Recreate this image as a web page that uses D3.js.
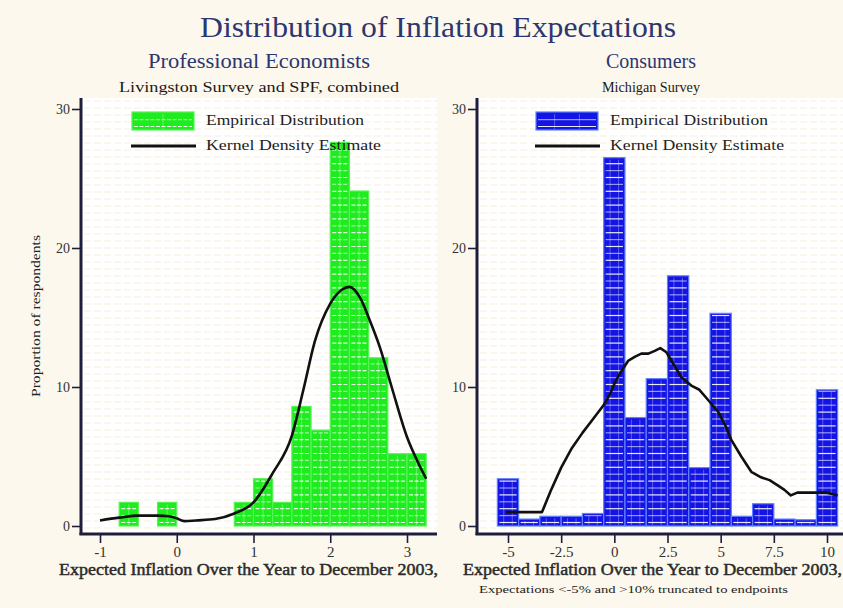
<!DOCTYPE html>
<html>
<head>
<meta charset="utf-8">
<script src="https://cdn.jsdelivr.net/npm/d3@7/dist/d3.min.js"></script>
<style>
  html, body { margin: 0; padding: 0; background: #fcf8ed; }
  svg { display: block; }
  text { font-family: "Liberation Serif", "DejaVu Serif", serif; }
</style>
</head>
<body>
<svg id="chart" width="843" height="608"></svg>
<script>
// Professional economists: 0.25-point bins (left edges) and share of respondents (%)
const proBinStart = [-0.75, -0.25, 0.75, 1.0, 1.25, 1.5, 1.75, 2.0, 2.25, 2.5, 2.75, 3.0];
const proShare    = [1.7, 1.7, 1.7, 3.4, 1.7, 8.6, 6.9, 27.6, 24.1, 12.1, 5.2, 5.2];
const proBinWidth = 0.25;
// Professional economists: kernel density estimate (scaled to %)
const proKdeX = [-1.0, -0.75, -0.5, -0.25, -0.1, 0.0, 0.1, 0.25, 0.5, 0.75, 1.0, 1.25, 1.5, 1.65, 1.8, 2.0, 2.15, 2.25, 2.4, 2.5, 2.65, 2.8, 3.0, 3.15, 3.25];
const proKdeY = [0.4, 0.6, 0.75, 0.75, 0.7, 0.55, 0.35, 0.4, 0.5, 0.9, 1.7, 3.8, 6.5, 9.8, 13.3, 16.0, 17.0, 17.2, 16.3, 15.0, 12.8, 10.0, 6.4, 4.5, 3.4];

// Consumers: one-point bins centred on integers, -5 .. 10
const conBinCentre = [-5, -4, -3, -2, -1, 0, 1, 2, 3, 4, 5, 6, 7, 8, 9, 10];
const conShare     = [3.4, 0.5, 0.7, 0.7, 0.9, 26.5, 7.8, 10.6, 18.0, 4.2, 15.3, 0.7, 1.6, 0.5, 0.45, 9.8];
const conBinWidth  = 1;
// Consumers: kernel density estimate (scaled to %)
const conKdeX = [-5.1, -4.5, -3.4, -3.0, -2.5, -2.0, -1.5, -1.0, -0.5, -0.2, 0.05, 0.4, 0.66, 1.0, 1.27, 1.6, 1.9, 2.16, 2.45, 2.8, 3.15, 3.62, 4.0, 4.28, 4.89, 5.2, 5.5, 5.97, 6.44, 6.9, 7.3, 7.7, 8.0, 8.3, 8.6, 9.0, 9.4, 10.0, 10.5];
const conKdeY = [1.0, 1.0, 1.0, 2.5, 4.2, 5.6, 6.7, 7.7, 8.7, 9.5, 10.4, 11.3, 11.9, 12.2, 12.4, 12.4, 12.6, 12.8, 12.5, 11.6, 10.7, 10.1, 9.8, 9.3, 8.2, 7.3, 6.2, 5.0, 3.9, 3.5, 3.3, 2.9, 2.6, 2.2, 2.4, 2.4, 2.4, 2.4, 2.2];

// Axis ticks
const yTicks = [0, 10, 20, 30];
const proTicksX = [-1, 0, 1, 2, 3];
const proTickLabels = ["-1", "0", "1", "2", "3"];
const conTicksX = [-5, -2.5, 0, 2.5, 5, 7.5, 10];
const conTickLabels = ["-5", "-2.5", "0", "2.5", "5", "7.5", "10"];

const svg = d3.select("#chart");
const W = 843, H = 608;
const navy = "#2c3670";
const axisColor = "#1e1e3c";

svg.append("rect").attr("width", W).attr("height", H).attr("fill", "#fcf8ed");

// Titles
svg.append("text").attr("x", 438).attr("y", 37).attr("text-anchor", "middle")
  .attr("font-size", 29).attr("fill", navy)
  .attr("textLength", 476).attr("lengthAdjust", "spacingAndGlyphs")
  .text("Distribution of Inflation Expectations");

function panelHeader(cx, title, sub, titleLen, subLen) {
  const t = svg.append("text").attr("x", cx).attr("y", 68).attr("text-anchor", "middle")
    .attr("font-size", 20).attr("fill", navy).text(title);
  if (titleLen) t.attr("textLength", titleLen).attr("lengthAdjust", "spacingAndGlyphs");
  const s = svg.append("text").attr("x", cx).attr("y", 92).attr("text-anchor", "middle")
    .attr("font-size", 15).attr("fill", "#1a1a1a").text(sub);
  if (subLen) s.attr("textLength", subLen).attr("lengthAdjust", "spacingAndGlyphs");
}
panelHeader(259, "Professional Economists", "Livingston Survey and SPF, combined", 222, 280);
panelHeader(651, "Consumers", "Michigan Survey", null, 98);

// Hatched bar: solid fill, rows of white dashes and faint verticals
function hatchedRect(g, x0, x1, yTop, yBase, style) {
  const w = x1 - x0;
  g.append("rect").attr("x", x0).attr("y", yTop).attr("width", w).attr("height", yBase - yTop)
    .attr("fill", style.fill).attr("stroke", style.edge).attr("stroke-width", 1.2);
  let k = 0;
  for (let yy = yBase - 3.5; yy > yTop + 1.5; yy -= 6.9, k++) {
    g.append("line").attr("x1", x0 + 2).attr("x2", x1 - 2).attr("y1", yy).attr("y2", yy)
      .attr("stroke", "#ffffff").attr("stroke-width", 1.2)
      .attr("stroke-dasharray", style.dash)
      .attr("opacity", k % 2 === 0 ? 0.9 : 0.55);
  }
  style.vfrac.forEach(f => {
    g.append("line").attr("x1", x0 + w * f).attr("x2", x0 + w * f)
      .attr("y1", yTop + 2).attr("y2", yBase - 1)
      .attr("stroke", "#ffffff").attr("stroke-width", 1).attr("opacity", 0.3);
  });
}

const greenStyle = { fill: "#1fec1f", edge: "#57f257", dash: "4,1.5", vfrac: [0.5] };
const blueStyle  = { fill: "#1414e4", edge: "#6080ff", dash: "none", vfrac: [0.3, 0.7] };

function panel(cfg) {
  const g = svg.append("g");
  const x = d3.scaleLinear().domain(cfg.xDomain).range(cfg.xRange);
  const y = d3.scaleLinear().domain([0, 30]).range([526, 109]);

  // plot background
  g.append("rect").attr("x", cfg.left).attr("y", 98).attr("width", cfg.right - cfg.left).attr("height", 534 - 98)
    .attr("fill", "#ffffff");
  // faint horizontal banding of the plot region
  const band = g.append("g");
  for (let yy = 101; yy < 532; yy += 7) {
    band.append("line").attr("x1", cfg.left + 3).attr("x2", cfg.right).attr("y1", yy).attr("y2", yy)
      .attr("stroke", "#f4ead3").attr("stroke-width", 1).attr("stroke-dasharray", "7,3").attr("opacity", 0.7);
  }

  // bars
  const bars = g.append("g");
  cfg.bins.forEach((b, i) => {
    hatchedRect(bars, x(b.x0), x(b.x1), y(cfg.values[i]), y(0), cfg.style);
  });

  // kernel density
  const pts = cfg.kdeX.map((v, i) => [v, cfg.kdeY[i]]);
  g.append("path").datum(pts)
    .attr("fill", "none").attr("stroke", "#111111").attr("stroke-width", 2.6)
    .attr("stroke-linejoin", "round")
    .attr("d", d3.line().x(d => x(d[0])).y(d => y(d[1])).curve(cfg.curve));

  // y axis
  const ya = g.append("g").attr("transform", `translate(${cfg.left},0)`)
    .call(d3.axisLeft(y).tickValues(yTicks).tickSize(9).tickPadding(2).tickFormat(d3.format("d")));
  ya.select(".domain").remove();
  ya.selectAll(".tick line").attr("stroke", axisColor).attr("stroke-width", 1.6);
  ya.selectAll(".tick text").attr("font-size", 14).attr("fill", "#333")
    .attr("font-family", "'Liberation Serif', serif");

  // x axis
  const xa = g.append("g").attr("transform", "translate(0,534)")
    .call(d3.axisBottom(x).tickValues(cfg.xTicks).tickSize(9).tickPadding(3)
      .tickFormat((d, i) => cfg.xLabels[i]));
  xa.select(".domain").remove();
  xa.selectAll(".tick line").attr("stroke", axisColor).attr("stroke-width", 1.6);
  xa.selectAll(".tick text").attr("font-size", 15).attr("fill", "#333")
    .attr("font-family", "'Liberation Serif', serif");

  // axis frame lines
  g.append("line").attr("x1", cfg.left).attr("x2", cfg.left).attr("y1", 98).attr("y2", 535)
    .attr("stroke", axisColor).attr("stroke-width", 3);
  g.append("line").attr("x1", cfg.left - 1.5).attr("x2", cfg.right).attr("y1", 534).attr("y2", 534)
    .attr("stroke", axisColor).attr("stroke-width", 3);

  // legend
  const lg = g.append("g");
  hatchedRect(lg, cfg.legX, cfg.legX + 62, 112, 130, cfg.style);
  lg.append("text").attr("x", cfg.legX + 74).attr("y", 125).attr("font-size", 15).attr("fill", "#222")
    .attr("textLength", 158).attr("lengthAdjust", "spacingAndGlyphs").text("Empirical Distribution");
  lg.append("line").attr("x1", cfg.legX - 1).attr("x2", cfg.legX + 64).attr("y1", 146).attr("y2", 146)
    .attr("stroke", "#111").attr("stroke-width", 3.2);
  lg.append("text").attr("x", cfg.legX + 74).attr("y", 150).attr("font-size", 15).attr("fill", "#222")
    .attr("textLength", cfg.kdeLen).attr("lengthAdjust", "spacingAndGlyphs").text("Kernel Density Estimate");

  // x label
  g.append("text").attr("x", cfg.xlabX).attr("y", 575).attr("font-size", 16)
    .attr("fill", "#2a2a2a").attr("stroke", "#2a2a2a").attr("stroke-width", 0.45)
    .attr("textLength", 379).attr("lengthAdjust", "spacingAndGlyphs")
    .text("Expected Inflation Over the Year to December 2003,");
}

panel({
  left: 81, right: 437, xDomain: [-1, 3], xRange: [100, 407],
  bins: proBinStart.map(s => ({ x0: s, x1: s + proBinWidth })), values: proShare,
  kdeX: proKdeX, kdeY: proKdeY, curve: d3.curveMonotoneX,
  xTicks: proTicksX, xLabels: proTickLabels, style: greenStyle,
  legX: 132, kdeLen: 175, xlabX: 59
});
panel({
  left: 477, right: 843, xDomain: [-5, 10], xRange: [508, 827],
  bins: conBinCentre.map(c => ({ x0: c - conBinWidth / 2, x1: c + conBinWidth / 2 })), values: conShare,
  kdeX: conKdeX, kdeY: conKdeY, curve: d3.curveLinear,
  xTicks: conTicksX, xLabels: conTickLabels, style: blueStyle,
  legX: 536, kdeLen: 174, xlabX: 463
});

// y axis title
svg.append("text").attr("transform", "translate(40,316) rotate(-90)").attr("text-anchor", "middle")
  .attr("font-size", 13).attr("fill", "#222").attr("textLength", 162).attr("lengthAdjust", "spacingAndGlyphs")
  .text("Proportion of respondents");

// footnote under the consumer panel
svg.append("text").attr("x", 479).attr("y", 593).attr("font-size", 11).attr("fill", "#222")
  .attr("textLength", 309).attr("lengthAdjust", "spacingAndGlyphs")
  .text("Expectations <-5% and >10% truncated to endpoints");
</script>
</body>
</html>
